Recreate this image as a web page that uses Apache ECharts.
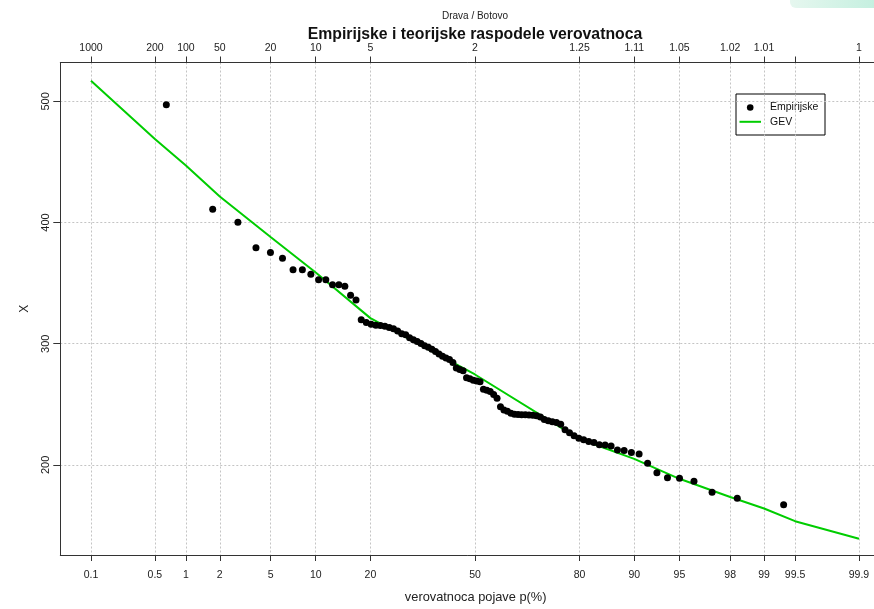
<!DOCTYPE html>
<html>
<head>
<meta charset="utf-8">
<script src="https://cdn.jsdelivr.net/npm/echarts@6/dist/echarts.min.js"></script>
<style>
  html, body { margin: 0; padding: 0; background: #fff; }
  #chart { width: 874px; height: 609px; }
</style>
</head>
<body>
<div id="chart"></div>
<script>
// Exceedance probabilities (%) marked on the bottom axis
const probTicks = [0.1, 0.5, 1, 2, 5, 10, 20, 50, 80, 90, 95, 98, 99, 99.5, 99.9];
// Matching return periods on the top axis (99.5 % is left unlabelled)
const returnLabels = ['1000', '200', '100', '50', '20', '10', '5', '2', '1.25', '1.11', '1.05', '1.02', '1.01', '', '1'];
const yTicks = [200, 300, 400, 500];

// Empirical plotting positions p (%) and observed maxima X
const empiricalP = [
  0.65, 1.74, 2.82, 3.90, 4.99, 6.07, 7.16, 8.24, 9.33, 10.41,
  11.50, 12.58, 13.67, 14.75, 15.84, 16.92, 18.00, 19.09, 20.17, 21.26,
  22.34, 23.43, 24.51, 25.60, 26.68, 27.77, 28.85, 29.93, 31.02, 32.10,
  33.19, 34.27, 35.36, 36.44, 37.53, 38.61, 39.70, 40.78, 41.87, 42.95,
  44.03, 45.12, 46.20, 47.29, 48.37, 49.46, 50.54, 51.63, 52.71, 53.80,
  54.88, 55.97, 57.05, 58.13, 59.22, 60.30, 61.39, 62.47, 63.56, 64.64,
  65.73, 66.81, 67.90, 68.98, 70.07, 71.15, 72.23, 73.32, 74.40, 75.49,
  76.57, 77.66, 78.74, 79.83, 80.91, 82.00, 83.08, 84.16, 85.25, 86.33,
  87.42, 88.50, 89.59, 90.67, 91.76, 92.84, 93.93, 95.01, 96.10, 97.18,
  98.26, 99.35
];
const empiricalX = [
  497.3, 411.0, 400.3, 379.3, 375.2, 370.5, 361.0, 361.0, 357.4, 352.8,
  352.8, 348.7, 348.7, 347.5, 340.0, 336.1, 319.7, 317.5, 316.0, 315.3,
  315.0, 314.4, 313.4, 312.3, 310.5, 308.2, 307.3, 305.0, 303.2, 301.8,
  300.2, 298.3, 297.0, 295.5, 293.6, 291.5, 289.6, 288.3, 287.0, 284.5,
  280.0, 278.7, 277.6, 272.0, 271.0, 269.8, 269.2, 268.6, 262.5, 261.5,
  260.5, 258.0, 255.0, 248.0, 245.2, 244.2, 242.5, 241.8, 241.5, 241.4,
  241.3, 241.2, 241.0, 240.6, 239.5, 237.5, 236.5, 235.5, 235.0, 233.5,
  229.0, 226.5, 224.0, 222.0, 220.8, 219.3, 218.5, 216.7, 216.4, 215.6,
  212.3, 211.8, 210.2, 209.0, 201.4, 193.4, 189.3, 188.9, 186.4, 177.4,
  172.5, 167.0
];

// Fitted GEV quantiles at the marked probabilities
const gevP = [0.1, 0.5, 1, 2, 5, 10, 20, 50, 80, 90, 95, 98, 99, 99.5, 99.9];
const gevX = [517.0, 469.0, 447.0, 421.5, 388.0, 358.8, 321.1, 274.6, 221.3, 204.9, 188.5, 173.5, 164.0, 153.5, 139.0];

// Normal probability paper: position = standard normal quantile of p
function probit(p) {
  const a = [-3.969683028665376e+01, 2.209460984245205e+02, -2.759285104469687e+02, 1.383577518672690e+02, -3.066479806614716e+01, 2.506628277459239e+00];
  const b = [-5.447609879822406e+01, 1.615858368580409e+02, -1.556989798598866e+02, 6.680131188771972e+01, -1.328068155288572e+01];
  const c = [-7.784894002430293e-03, -3.223964580411365e-01, -2.400758277161838e+00, -2.549671348433032e+00, 4.374664141464968e+00, 2.938163982698783e+00];
  const d = [7.784695709041462e-03, 3.224671290700398e-01, 2.445134137142996e+00, 3.754408661907416e+00];
  const pl = 0.02425, ph = 1 - pl;
  let q, r;
  if (p < pl) {
    q = Math.sqrt(-2 * Math.log(p));
    return (((((c[0]*q + c[1])*q + c[2])*q + c[3])*q + c[4])*q + c[5]) / ((((d[0]*q + d[1])*q + d[2])*q + d[3])*q + 1);
  }
  if (p <= ph) {
    q = p - 0.5; r = q * q;
    return (((((a[0]*r + a[1])*r + a[2])*r + a[3])*r + a[4])*r + a[5]) * q / (((((b[0]*r + b[1])*r + b[2])*r + b[3])*r + b[4])*r + 1);
  }
  q = Math.sqrt(-2 * Math.log(1 - p));
  return -(((((c[0]*q + c[1])*q + c[2])*q + c[3])*q + c[4])*q + c[5]) / ((((d[0]*q + d[1])*q + d[2])*q + d[3])*q + 1);
}
const toAxis = p => probit(p / 100);

const tickPos = probTicks.map(toAxis);
function labelFor(list) {
  return function (v) {
    for (let i = 0; i < tickPos.length; i++) {
      if (Math.abs(tickPos[i] - v) < 1e-6) return list[i];
    }
    return '';
  };
}

const FONT = '"Liberation Sans", Arial, sans-serif';
const AXIS_COLOR = '#333';
const GRID_LINE = { color: '#c4c4c4', width: 1, type: [2, 2] };

const chart = echarts.init(document.getElementById('chart'), null, { renderer: 'canvas' });

chart.setOption({
  animation: false,
  backgroundColor: '#fff',
  textStyle: { fontFamily: FONT },
  title: [
    { text: 'Drava / Botovo', left: 475, top: 11.5, padding: 0, textAlign: 'center',
      textStyle: { fontSize: 10, fontWeight: 'normal', color: '#222', fontFamily: FONT } },
    { text: 'Empirijske i teorijske raspodele verovatnoca', left: 475, top: 26.5, padding: 0, textAlign: 'center',
      textStyle: { fontSize: 15.8, fontWeight: 'bold', color: '#111', fontFamily: FONT } }
  ],
  grid: { left: 60.3, right: 0, top: 62.5, bottom: 50.5, containLabel: false },
  xAxis: [
    {
      type: 'value', position: 'bottom', min: -3.337, max: 3.211,
      name: 'verovatnoca pojave p(%)', nameLocation: 'middle', nameGap: 36,
      nameTextStyle: { fontSize: 12.8, color: '#222', fontFamily: FONT, padding: [0, 0, 0, 17] },
      axisLine: { show: true, onZero: false, lineStyle: { color: AXIS_COLOR, width: 1 } },
      axisTick: { show: true, length: 6, customValues: tickPos, lineStyle: { color: AXIS_COLOR } },
      axisLabel: { show: true, margin: 14.5, customValues: tickPos, formatter: labelFor(probTicks.map(String)),
        fontSize: 10.5, color: '#222', fontFamily: FONT },
      splitLine: { show: true, lineStyle: GRID_LINE }
    },
    {
      type: 'value', position: 'top', min: -3.337, max: 3.211,
      axisLine: { show: true, onZero: false, lineStyle: { color: AXIS_COLOR, width: 1 } },
      axisTick: { show: true, length: 6, customValues: tickPos, lineStyle: { color: AXIS_COLOR } },
      axisLabel: { show: true, margin: 9, customValues: tickPos, formatter: labelFor(returnLabels),
        fontSize: 10.5, color: '#222', fontFamily: FONT },
      splitLine: { show: false }
    }
  ],
  yAxis: {
    type: 'value', min: 125.6, max: 532.1,
    name: 'X', nameLocation: 'middle', nameGap: 30, nameRotate: 90,
    nameTextStyle: { fontSize: 12, color: '#222', fontFamily: FONT },
    axisLine: { show: true, onZero: false, lineStyle: { color: AXIS_COLOR, width: 1 } },
    axisTick: { show: true, length: 7, customValues: yTicks, lineStyle: { color: AXIS_COLOR } },
    axisLabel: { show: true, rotate: 90, margin: 9, customValues: yTicks,
      fontSize: 11, color: '#222', fontFamily: FONT },
    splitLine: { show: true, lineStyle: GRID_LINE }
  },
  series: [
    {
      name: 'GEV', type: 'line', xAxisIndex: 0,
      data: gevP.map((p, i) => [toAxis(p), gevX[i]]),
      showSymbol: false, smooth: false,
      lineStyle: { color: '#00cd00', width: 2 },
      z: 2
    },
    {
      name: 'Empirijske', type: 'scatter', xAxisIndex: 0,
      data: empiricalP.map((p, i) => [toAxis(p), empiricalX[i]]),
      symbol: 'circle', symbolSize: 7,
      itemStyle: { color: '#000', opacity: 1 },
      z: 3
    }
  ],
  graphic: [
    // pale tab in the top-right corner
    { type: 'rect', left: 790, top: -10, shape: { width: 100, height: 18, r: 6 },
      style: { fill: new echarts.graphic.LinearGradient(0, 0, 1, 0, [
        { offset: 0, color: '#e6f7ef' }, { offset: 1, color: '#bfeedd' }]) } },
    // legend box
    { type: 'group', left: 735.5, top: 93.5, children: [
      { type: 'rect', shape: { x: 0, y: 0, width: 89, height: 41 },
        style: { fill: '#fff', stroke: '#000', lineWidth: 1 } },
      { type: 'circle', shape: { cx: 14.2, cy: 13.5, r: 3.3 }, style: { fill: '#000' } },
      { type: 'line', shape: { x1: 3.5, y1: 27.8, x2: 25, y2: 27.8 },
        style: { stroke: '#00cd00', lineWidth: 2 } },
      { type: 'text', x: 34, y: 13.5,
        style: { text: 'Empirijske', fontSize: 10.5, fill: '#111', fontFamily: FONT, verticalAlign: 'middle' } },
      { type: 'text', x: 34, y: 28,
        style: { text: 'GEV', fontSize: 10.5, fill: '#111', fontFamily: FONT, verticalAlign: 'middle' } }
    ] }
  ]
});
</script>
</body>
</html>
